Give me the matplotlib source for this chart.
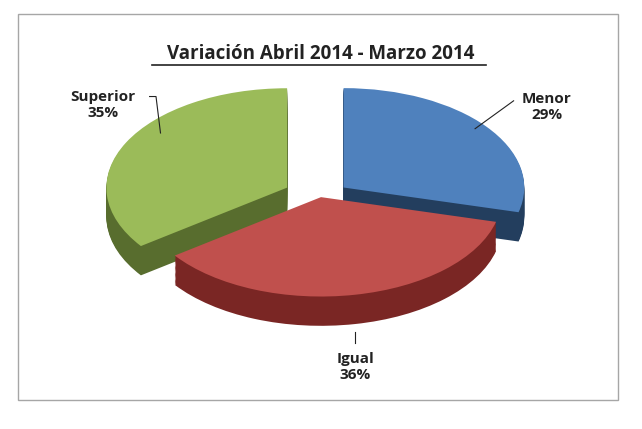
import matplotlib
matplotlib.use("Agg")
import matplotlib.pyplot as plt
import numpy as np

labels = ["Menor", "Igual", "Superior"]
values = [29, 36, 35]
pct_labels = ["29%", "36%", "35%"]
top_colors = ["#4F81BD", "#C0504D", "#9BBB59"]
side_colors = ["#233E5E", "#7A2624", "#586D2E"]
explode = [0.15, 0.0, 0.2]

fig = plt.figure(figsize=(6.42, 4.29), dpi=100)
fig.patches.append(plt.Rectangle((0.028, 0.067), 0.934, 0.9, transform=fig.transFigure,
                                 fill=False, edgecolor="#A6A6A6", lw=1))
ax = fig.add_axes([0.1, 0.15, 0.8, 0.72])
depth = 0.28
nl = 25
for i in range(nl, 0, -1):
    dy = -depth * i / nl
    ax.pie(values, colors=side_colors, explode=explode, startangle=90, counterclock=False,
           center=(0, dy), wedgeprops=dict(linewidth=0), radius=0.95)
ax.pie(values, colors=top_colors, explode=explode, startangle=90, counterclock=False,
       wedgeprops=dict(linewidth=0), radius=0.95)
ax.set_aspect(0.55)
ax.set_xlim(-1.35, 1.35)
ax.set_ylim(-1.45, 1.2)
ax.axis("off")

tf = dict(fontsize=11, fontweight="bold", family="Open Sans", ha="center", va="center", color="#222222")
fig.text(0.5, 0.875, "Variación Abril 2014 - Marzo 2014", fontsize=13.5, fontweight="bold",
         family="Open Sans", ha="center", va="center", color="#222222")
fig.add_artist(plt.Line2D([0.237, 0.757], [0.848, 0.848], color="#222222", lw=1.2))
fig.text(0.852, 0.75, labels[0] + "\n" + pct_labels[0], **tf)
fig.text(0.553, 0.145, labels[1] + "\n" + pct_labels[1], **tf)
fig.text(0.16, 0.755, labels[2] + "\n" + pct_labels[2], **tf)
fig.add_artist(plt.Line2D([0.74, 0.8], [0.7, 0.765], color="#222222", lw=0.8))
fig.add_artist(plt.Line2D([0.233, 0.243, 0.25], [0.775, 0.775, 0.69], color="#222222", lw=0.8))
fig.add_artist(plt.Line2D([0.553, 0.553], [0.2, 0.225], color="#222222", lw=0.8))
fig.savefig("out.png", dpi=100)
